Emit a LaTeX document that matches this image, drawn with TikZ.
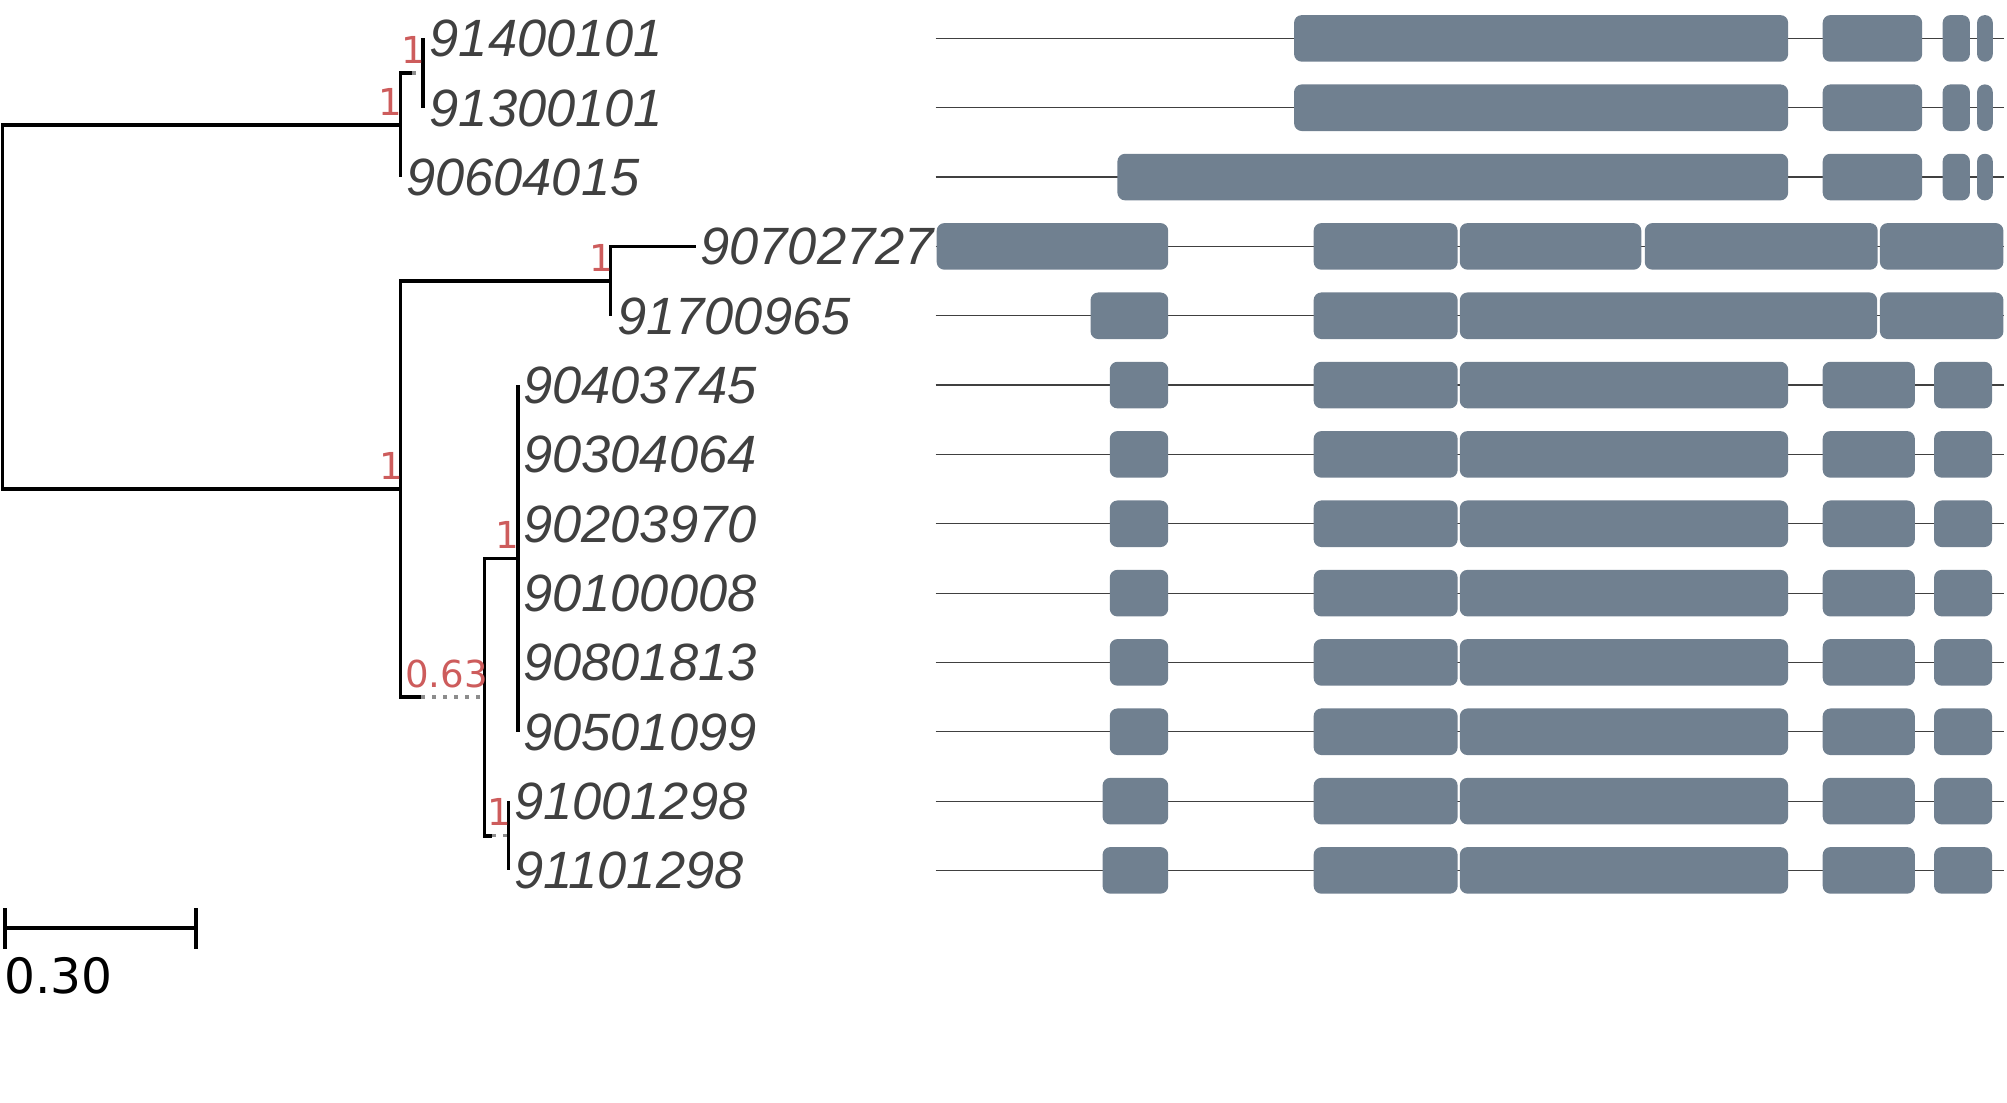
\documentclass[tikz,border=0pt]{standalone}
\usepackage{fontspec}
\setmainfont{Liberation Sans}
\newfontfamily\dvsans{DejaVu Sans}
\usetikzlibrary{calc}
\definecolor{leafc}{RGB}{64,64,64}
\definecolor{suppc}{RGB}{205,92,92}
\definecolor{exonc}{RGB}{112,128,144}
\tikzset{
  br/.style={line width=2.7pt, black, line join=miter},
  ext/.style={line width=2.5pt, black!45, dash pattern=on 2.8pt off 5.8pt},
  leaf/.style={anchor=base west, inner sep=0pt, text=leafc, font=\fontsize{41}{41}\selectfont\itshape},
  supp/.style={anchor=base east, inner sep=0pt, text=suppc, font=\fontsize{29}{29}\selectfont\dvsans},
  intron/.style={line width=1pt, black!75},
  exon/.style={fill=exonc}
}
\newcommand{\exonbox}[3]{%
  \pgfmathsetmacro{\rr}{min(6,(#2-#1)/2-0.05)}%
  \fill[exon, rounded corners=\rr pt] (#1,#3-18.2) rectangle (#2,#3+18.2);}
\begin{document}
\begin{tikzpicture}[x=1pt,y=-1pt]
\useasboundingbox (0,0) rectangle (1568,861);
% ---------- tree coordinates ----------
\coordinate (root) at (2,239.9);
\coordinate (nA)  at (313,97.7);
\coordinate (nA1) at (330.5,57.1);
\coordinate (nB)  at (313,382.1);
\coordinate (nC)  at (477,219.6);
\coordinate (nD)  at (378.7,544.6);
\coordinate (nE)  at (404.6,436.3);
\coordinate (nF)  at (397.4,653);
\coordinate (L0)  at (330.5,30);
\coordinate (L1)  at (330.5,84.17);
\coordinate (L2)  at (313,138.34);
\coordinate (L3)  at (544,192.5);
\coordinate (L4)  at (477,246.7);
\coordinate (L5)  at (404.6,300.85);
\coordinate (L6)  at (404.6,355);
\coordinate (L7)  at (404.6,409.2);
\coordinate (L8)  at (404.6,463.4);
\coordinate (L9)  at (404.6,517.5);
\coordinate (L10) at (404.6,571.7);
\coordinate (L11) at (397.4,625.9);
\coordinate (L12) at (397.4,680);
% ends of real branch length (rest is dotted extension)
\coordinate (eA1) at (322,57.1);
\coordinate (eD)  at (329,544.6);
\coordinate (eF)  at (384.6,653);
% ---------- branches ----------
\draw[br] (root) |- (nA);
\draw[br] (root) |- (nB);
\draw[br] (nA) |- (eA1);
\draw[ext] (eA1) -- (nA1);
\draw[br] (nA) |- (L2);
\draw[br] (nA1) |- (L0);
\draw[br] (nA1) |- (L1);
\draw[br] (nB) |- (nC);
\draw[br] (nB) |- (eD);
\draw[ext] (eD) -- (nD);
\draw[br] (nC) |- (L3);
\draw[br] (nC) |- (L4);
\draw[br] (nD) |- (nE);
\draw[br] (nD) |- (eF);
\draw[ext] (eF) -- (nF);
\foreach \l in {L5,L6,L7,L8,L9,L10} \draw[br] (nE) |- (\l);
\draw[br] (nF) |- (L11);
\draw[br] (nF) |- (L12);
% ---------- support values ----------
\node[supp] (sA1) at ($(nA1)+(2,-7.8)$) {1};
\node[supp] (sA)  at ($(nA)+(1.5,-7.8)$) {1};
\node[supp] (sC)  at ($(nC)+(2,-7.8)$) {1};
\node[supp] (sB)  at ($(nB)+(2.5,-7.8)$) {1};
\node[supp] (sE)  at ($(nE)+(1.5,-7.8)$) {1};
\node[supp] (sF)  at ($(nF)+(2,-7.8)$) {1};
\node[supp] (sD)  at ($(nD)+(2.5,-7.8)$) {0.63};
% ---------- leaf names ----------
\node[leaf] (t0)  at ($(L0)+(5,14.3)$)  {91400101};
\node[leaf] (t1)  at ($(L1)+(5,14.3)$)  {91300101};
\node[leaf] (t2)  at ($(L2)+(4,14.3)$)  {90604015};
\node[leaf] (t3)  at ($(L3)+(3,14.3)$)  {90702727};
\node[leaf] (t4)  at ($(L4)+(5,14.3)$)  {91700965};
\node[leaf] (t5)  at ($(L5)+(4,14.3)$)  {90403745};
\node[leaf] (t6)  at ($(L6)+(4,14.3)$)  {90304064};
\node[leaf] (t7)  at ($(L7)+(4,14.3)$)  {90203970};
\node[leaf] (t8)  at ($(L8)+(4,14.3)$)  {90100008};
\node[leaf] (t9)  at ($(L9)+(4,14.3)$)  {90801813};
\node[leaf] (t10) at ($(L10)+(4,14.3)$) {90501099};
\node[leaf] (t11) at ($(L11)+(4,14.3)$) {91001298};
\node[leaf] (t12) at ($(L12)+(4,14.3)$) {91101298};
% ---------- scale bar ----------
\coordinate (sb1) at (4,725);
\coordinate (sb2) at (153,725);
\draw[br] (sb1) -- (sb2);
\draw[br] ($(sb1)+(0,-15.5)$) -- ($(sb1)+(0,16.5)$);
\draw[br] ($(sb2)+(0,-15.5)$) -- ($(sb2)+(0,16.5)$);
\node[anchor=base west, inner sep=0pt, font=\fontsize{38}{38}\selectfont\dvsans] (sbl) at (3,776.5) {0.30};
% ---------- gene structures ----------
\foreach \y in {30,84.17,138.34,192.5,246.7,300.85,355,409.2,463.4,517.5,571.7,625.9,680}
  \draw[intron] (731,\y) -- (1566,\y);
% rows 0-1
\foreach \y in {30,84.17}{
  \exonbox{1011}{1397}{\y}\exonbox{1424}{1501.7}{\y}\exonbox{1517.7}{1539}{\y}\exonbox{1544.6}{1556.9}{\y}}
% row 2
\exonbox{873}{1397}{138.34}\exonbox{1424}{1501.7}{138.34}\exonbox{1517.7}{1539}{138.34}\exonbox{1544.6}{1556.9}{138.34}
% row 3
\exonbox{731.8}{912.7}{192.5}\exonbox{1026.3}{1138.8}{192.5}\exonbox{1140.5}{1282.3}{192.5}\exonbox{1285}{1467}{192.5}\exonbox{1468.7}{1565.2}{192.5}
% row 4
\exonbox{852}{912.7}{246.7}\exonbox{1026.3}{1138.8}{246.7}\exonbox{1140.5}{1466.5}{246.7}\exonbox{1468.7}{1565.2}{246.7}
% rows 5-10
\foreach \y in {300.85,355,409.2,463.4,517.5,571.7}{
  \exonbox{867}{912.7}{\y}\exonbox{1026.3}{1138.8}{\y}\exonbox{1140.5}{1397}{\y}\exonbox{1424}{1496}{\y}\exonbox{1511}{1556.3}{\y}}
% rows 11-12
\foreach \y in {625.9,680}{
  \exonbox{861.4}{912.7}{\y}\exonbox{1026.3}{1138.8}{\y}\exonbox{1140.5}{1397}{\y}\exonbox{1424}{1496}{\y}\exonbox{1511}{1556.3}{\y}}
\end{tikzpicture}
\end{document}
